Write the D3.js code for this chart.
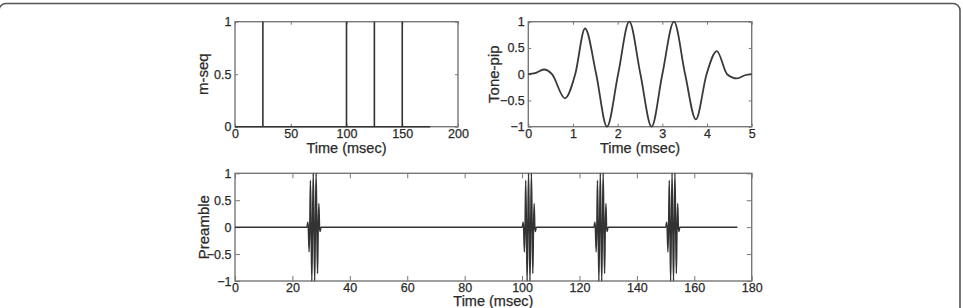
<!DOCTYPE html>
<html>
<head>
<meta charset="utf-8">
<script src="https://cdn.jsdelivr.net/npm/d3@7"></script>
<style>
  body { margin: 0; background: #fff; }
  svg text { font-family: "Liberation Sans", Arial, Helvetica, sans-serif; fill: #2a2a2a; stroke: #2a2a2a; stroke-width: 0.25px; }
</style>
</head>
<body>
<div id="chart"></div>
<script>
// m-sequence impulses (msec) and the end of the recorded span
const mseqTimes = [25, 100, 125, 150];
const mseqEnd = 175;

// tone-pip: times (msec) and amplitudes at extrema / zero crossings
const toneT = [0.00, 0.15, 0.35, 0.53, 0.82, 1.05, 1.27, 1.52, 1.76, 2.01, 2.26, 2.51, 2.76, 3.00, 3.26, 3.51, 3.75, 3.99, 4.22, 4.45, 4.67, 4.85, 5.00];
const toneV = [0.00, 0.02, 0.09, 0.00, -0.46, 0.00, 0.87, 0.00, -1.00, 0.00, 1.00, 0.00, -1.00, 0.00, 1.00, 0.00, -0.86, 0.00, 0.44, 0.00, -0.08, -0.02, 0.00];

// axis ticks
const mseqXTicks = [0, 50, 100, 150, 200];
const mseqYTicks = [0, 0.5, 1];
const toneXTicks = [0, 1, 2, 3, 4, 5];
const toneYTicks = [-1, -0.5, 0, 0.5, 1];
const preXTicks = [0, 20, 40, 60, 80, 100, 120, 140, 160, 180];
const preYTicks = [-1, -0.5, 0, 0.5, 1];

const W = 963, H = 308;

let svg = d3.select("#chart").append("svg")
    .attr("width", W)
    .attr("height", H);

// rounded frame round the figure
svg.append("rect")
    .attr("x", -1).attr("y", 3.5)
    .attr("width", 961).attr("height", 330)
    .attr("rx", 7)
    .attr("fill", "none")
    .attr("stroke", "#555")
    .attr("stroke-width", 1.6);

function panel(box, xDom, yDom, xTicks, yTicks, tickLen, xLabel, yLabel, yLabelX) {
    let x = d3.scaleLinear().domain(xDom).range([box.left, box.right]);
    let y = d3.scaleLinear().domain(yDom).range([box.bottom, box.top]);
    let g = svg.append("g");

    let fmt = d => d3.format("")(d);

    let axes = [
        [d3.axisBottom(x).tickValues(xTicks).tickSize(-tickLen).tickPadding(2).tickFormat(fmt), 0, box.bottom],
        [d3.axisTop(x).tickValues(xTicks).tickSize(-tickLen).tickFormat(""), 0, box.top],
        [d3.axisLeft(y).tickValues(yTicks).tickSize(-tickLen).tickPadding(3.5).tickFormat(fmt), box.left, 0],
        [d3.axisRight(y).tickValues(yTicks).tickSize(-tickLen).tickFormat(""), box.right, 0]
    ];
    axes.forEach(a => {
        let ag = g.append("g")
            .attr("transform", `translate(${a[1]},${a[2]})`)
            .call(a[0]);
        ag.select(".domain").remove();
        ag.selectAll("line").attr("stroke", "#777").attr("stroke-width", 1);
        ag.selectAll("text").attr("font-size", 12.5).attr("fill", "#2a2a2a");
    });

    g.append("rect")
        .attr("x", box.left).attr("y", box.top)
        .attr("width", box.right - box.left)
        .attr("height", box.bottom - box.top)
        .attr("fill", "none")
        .attr("stroke", "#777")
        .attr("stroke-width", 1.4);

    g.append("text")
        .attr("x", (box.left + box.right) / 2)
        .attr("y", box.xLabelY)
        .attr("text-anchor", "middle")
        .attr("font-size", 14.5)
        .text(xLabel);

    g.append("text")
        .attr("transform", `translate(${yLabelX},${(box.top + box.bottom) / 2}) rotate(-90)`)
        .attr("text-anchor", "middle")
        .attr("font-size", 15)
        .text(yLabel);

    return {g, x, y};
}

// ---- m-seq panel
let p1 = panel({left: 235, right: 458, top: 21.7, bottom: 126.7, xLabelY: 153},
    [0, 200], [0, 1], mseqXTicks, mseqYTicks, 3, "Time (msec)", "m-seq", 208);

let mseqPts = [[0, 0]];
mseqTimes.forEach(t => { mseqPts.push([t, 0], [t, 1], [t, 0]); });
mseqPts.push([mseqEnd, 0]);

p1.g.append("path")
    .datum(mseqPts)
    .attr("fill", "none")
    .attr("stroke", "#333")
    .attr("stroke-width", 1.6)
    .attr("d", d3.line().x(d => p1.x(d[0])).y(d => p1.y(d[1])));

// ---- tone-pip panel
let p2 = panel({left: 528.3, right: 751.7, top: 21.7, bottom: 126.7, xLabelY: 153},
    [0, 5], [-1, 1], toneXTicks, toneYTicks, 3, "Time (msec)", "Tone-pip", 499);

let tonePts = toneT.map((t, i) => [t, toneV[i]]);

p2.g.append("path")
    .datum(tonePts)
    .attr("fill", "none")
    .attr("stroke", "#3a3a3a")
    .attr("stroke-width", 1.8)
    .attr("d", d3.line().curve(d3.curveMonotoneX).x(d => p2.x(d[0])).y(d => p2.y(d[1])));

// ---- preamble panel: the tone-pip placed at every m-seq impulse
let p3 = panel({left: 235, right: 751.7, top: 173.3, bottom: 281, xLabelY: 306},
    [0, 180], [-1, 1], preXTicks, preYTicks, 5, "Time (msec)", "Preamble", 209);

let prePts = [[0, 0]];
mseqTimes.forEach(s => {
    tonePts.forEach(p => prePts.push([s + p[0], p[1]]));
});
prePts.push([mseqEnd, 0]);

p3.g.append("path")
    .datum(prePts)
    .attr("fill", "none")
    .attr("stroke", "#333")
    .attr("stroke-width", 1.5)
    .attr("d", d3.line().curve(d3.curveMonotoneX).x(d => p3.x(d[0])).y(d => p3.y(d[1])));
</script>
</body>
</html>
